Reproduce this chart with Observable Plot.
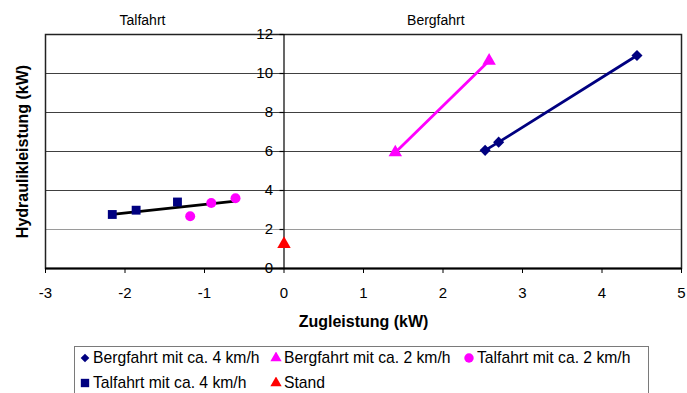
<!DOCTYPE html>
<html>
<head>
<meta charset="utf-8">
<script src="https://cdn.jsdelivr.net/npm/d3@7"></script>
<script src="https://cdn.jsdelivr.net/npm/@observablehq/plot@0.6"></script>
<style>
  html, body { margin: 0; padding: 0; background: #fff; }
  body { width: 687px; height: 393px; overflow: hidden; position: relative;
         font-family: "Liberation Sans", Arial, sans-serif; }
  #chart svg { display: block; }
  #legend { position: absolute; left: 74px; top: 346px; width: 575px; height: 60px;
            border: 1.5px solid #7a7a7a; box-sizing: border-box; background: #fff;
            font-size: 15.7px; color: #000; }
  #legend .item { position: absolute; display: flex; align-items: center; white-space: nowrap; }
  #legend svg { margin-right: 2px; }
</style>
</head>
<body>
<div id="chart"></div>
<div id="legend"></div>
<script>
// Zugleistung (x) and Hydraulikleistung (y) in kW
const bergfahrt4X = [2.53, 2.70, 4.44];
const bergfahrt4Y = [6.06, 6.48, 10.92];
const bergfahrt2X = [1.40, 2.58];
const bergfahrt2Y = [5.95, 10.65];
const talfahrt2X = [-1.18, -0.915, -0.61];
const talfahrt2Y = [2.68, 3.36, 3.60];
const talfahrt4X = [-2.16, -1.86, -1.34];
const talfahrt4Y = [2.77, 2.99, 3.41];
const standX = [0];
const standY = [1.25];

const xTicks = [-3, -2, -1, 0, 1, 2, 3, 4, 5];
const yTicks = [0, 2, 4, 6, 8, 10, 12];
const seriesNames = ["Bergfahrt mit ca. 4 km/h", "Bergfahrt mit ca. 2 km/h", "Talfahrt mit ca. 2 km/h",
                     "Talfahrt mit ca. 4 km/h", "Stand"];
const xTitle = "Zugleistung (kW)";
const yTitle = "Hydraulikleistung (kW)";
const panelTitles = ["Talfahrt", "Bergfahrt"];

const NAVY = "#000080", MAGENTA = "#ff00ff", RED = "#ff0000";

const rows = (xs, ys) => xs.map((x, i) => ({x, y: ys[i]}));
const berg4 = rows(bergfahrt4X, bergfahrt4Y);
const berg2 = rows(bergfahrt2X, bergfahrt2Y);
const tal2 = rows(talfahrt2X, talfahrt2Y);
const tal4 = rows(talfahrt4X, talfahrt4Y);
const stand = rows(standX, standY);
const talAll = tal4.concat(tal2);

const chart = Plot.plot({
  width: 687,
  height: 340,
  marginLeft: 45,
  marginRight: 6,
  marginTop: 34,
  marginBottom: 72,
  style: {fontFamily: "'Liberation Sans', Arial, sans-serif", fontSize: "15px", color: "#000", background: "#fff"},
  x: {domain: [-3, 5], ticks: xTicks},
  y: {domain: [0, 12], axis: null},
  marks: [
    // horizontal gridlines
    Plot.ruleY(yTicks.filter(d => d > 0 && d < 12), {stroke: d => d === 2 ? "#9a9a9a" : "#404040", strokeWidth: 1.2}),
    Plot.frame({stroke: "#222", strokeWidth: 1.5}),
    // vertical axis through x = 0
    Plot.ruleX([0], {stroke: "#000", strokeWidth: 1.2}),
    Plot.ruleY(yTicks, {x1: -0.05, x2: 0, stroke: "#000", strokeWidth: 1.2}),
    Plot.text(yTicks, {x: 0, y: d => d, text: d => String(d), textAnchor: "end", dx: -11, fontSize: 15}),
    // x axis along the bottom
    Plot.ruleY([0], {stroke: "#000", strokeWidth: 2}),
    Plot.axisX({ticks: xTicks, tickSize: 5, tickPadding: 14, tickFormat: d => String(d).replace("−", "-"),
                label: null, fontSize: 15, stroke: "#000"}),
    Plot.text([xTitle], {frameAnchor: "bottom", lineAnchor: "middle", dy: 53, fontWeight: "bold", fontSize: 16}),
    Plot.text([yTitle], {frameAnchor: "left", textAnchor: "middle", lineAnchor: "middle", dx: -23, rotate: -90,
                         fontWeight: "bold", fontSize: 16}),
    Plot.text([panelTitles[0]], {x: -1.78, frameAnchor: "top", lineAnchor: "middle", dy: -14, fontSize: 14}),
    Plot.text([panelTitles[1]], {x: 1.91, frameAnchor: "top", lineAnchor: "middle", dy: -14, fontSize: 14}),
    // Talfahrt trend
    Plot.linearRegressionY(talAll, {x: "x", y: "y", stroke: "#000", strokeWidth: 2.8, ci: 0}),
    // Bergfahrt series
    Plot.line(berg2, {x: "x", y: "y", stroke: MAGENTA, strokeWidth: 2.8}),
    Plot.line(berg4, {x: "x", y: "y", stroke: NAVY, strokeWidth: 2.8}),
    Plot.dot(berg4, {x: "x", y: "y", symbol: "diamond2", r: 5, fill: NAVY}),
    Plot.dot(berg2, {x: "x", y: "y", symbol: "triangle", r: 5, fill: MAGENTA}),
    Plot.dot(tal2, {x: "x", y: "y", symbol: "circle", r: 5, fill: MAGENTA}),
    Plot.dot(tal4, {x: "x", y: "y", symbol: "square", r: 5, fill: NAVY}),
    Plot.dot(stand, {x: "x", y: "y", symbol: "triangle", r: 5, fill: RED})
  ]
});
document.getElementById("chart").append(chart);

// legend
const legendSymbols = [
  {sym: d3.symbolDiamond2, color: NAVY, size: 48},
  {sym: d3.symbolTriangle, color: MAGENTA, size: 55},
  {sym: d3.symbolCircle, color: MAGENTA, size: 70},
  {sym: d3.symbolSquare, color: NAVY, size: 70},
  {sym: d3.symbolTriangle, color: RED, size: 55}
];
const legendCols = [4, 195, 388];
const legend = d3.select("#legend");
seriesNames.forEach((name, i) => {
  const row = i < 3 ? 0 : 1;
  const col = i < 3 ? i : i - 3;
  const item = legend.append("div").attr("class", "item")
    .style("left", legendCols[col] + "px")
    .style("top", (row * 24.7 + 1) + "px")
    .style("height", "20px");
  const s = legendSymbols[i];
  item.append("svg").attr("width", 12).attr("height", 12)
    .append("path").attr("transform", "translate(6,6)")
    .attr("d", d3.symbol(s.sym, s.size)()).attr("fill", s.color);
  item.append("span").text(name);
});
</script>
</body>
</html>
